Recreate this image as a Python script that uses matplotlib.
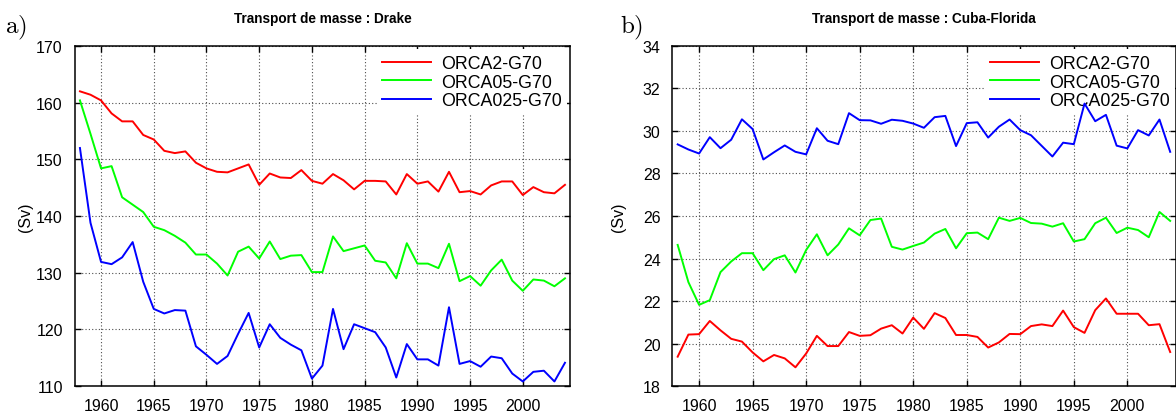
import numpy as np
import matplotlib
matplotlib.use("Agg")
import matplotlib.pyplot as plt

plt.rcParams["font.family"] = ["Liberation Sans", "DejaVu Sans"]
plt.rcParams["mathtext.fontset"] = "cm"

years = np.arange(1958, 2005)
labels = ["ORCA2-G70", "ORCA05-G70", "ORCA025-G70"]
colors = ["#ff0000", "#00ff00", "#0000ff"]

# Drake Passage transport (Sv)
drake_orca2 = [162.0, 161.4, 160.4, 158.1, 156.7, 156.7, 154.3, 153.5, 151.5, 151.1,
               151.4, 149.4, 148.4, 147.8, 147.7, 148.4, 149.1, 145.5, 147.5, 146.8,
               146.7, 148.1, 146.2, 145.7, 147.4, 146.3, 144.7, 146.2, 146.2, 146.1,
               143.8, 147.4, 145.7, 146.1, 144.3, 147.8, 144.2, 144.4, 143.8, 145.4,
               146.1, 146.1, 143.7, 145.1, 144.2, 144.0, 145.5]
drake_orca05 = [160.4, 154.5, 148.4, 148.8, 143.3, 142.0, 140.7, 138.1, 137.5, 136.5,
                135.3, 133.2, 133.2, 131.6, 129.5, 133.7, 134.6, 132.5, 135.5, 132.4,
                133.0, 133.1, 130.1, 130.1, 136.4, 133.8, 134.3, 134.8, 132.1, 131.8,
                129.0, 135.2, 131.6, 131.6, 130.8, 135.1, 128.5, 129.4, 127.7, 130.4,
                132.3, 128.6, 126.8, 128.8, 128.6, 127.6, 129.0]
drake_orca025 = [152.0, 138.8, 131.9, 131.5, 132.7, 135.4, 128.4, 123.6, 122.8, 123.4,
                 123.3, 117.0, 115.5, 113.9, 115.3, 119.2, 122.9, 116.8, 120.9, 118.5,
                 117.3, 116.3, 111.3, 113.6, 123.6, 116.5, 120.9, 120.2, 119.5, 116.8,
                 111.5, 117.4, 114.7, 114.7, 113.6, 123.9, 113.9, 114.4, 113.4, 115.2,
                 114.9, 112.2, 110.8, 112.5, 112.7, 110.8, 114.1]

# Cuba-Florida transport (Sv)
cuba_orca2 = [19.38, 20.42, 20.44, 21.06, 20.62, 20.22, 20.09, 19.58, 19.16, 19.46,
              19.30, 18.88, 19.53, 20.36, 19.88, 19.88, 20.54, 20.36, 20.39, 20.70,
              20.86, 20.47, 21.22, 20.69, 21.43, 21.20, 20.40, 20.40, 20.31, 19.81,
              20.05, 20.45, 20.44, 20.82, 20.90, 20.82, 21.55, 20.77, 20.50, 21.57,
              22.12, 21.40, 21.40, 21.40, 20.86, 20.91, 19.60]
cuba_orca05 = [24.64, 22.89, 21.82, 22.04, 23.36, 23.86, 24.25, 24.25, 23.45, 23.97,
               24.15, 23.34, 24.40, 25.14, 24.15, 24.66, 25.42, 25.09, 25.81, 25.88,
               24.55, 24.42, 24.59, 24.75, 25.17, 25.39, 24.48, 25.19, 25.22, 24.91,
               25.92, 25.77, 25.91, 25.67, 25.64, 25.50, 25.66, 24.80, 24.91, 25.66,
               25.92, 25.20, 25.45, 25.34, 25.00, 26.19, 25.77]
cuba_orca025 = [29.37, 29.13, 28.94, 29.71, 29.19, 29.59, 30.55, 30.09, 28.66, 29.00,
                29.32, 29.02, 28.90, 30.13, 29.54, 29.38, 30.84, 30.51, 30.50, 30.34,
                30.53, 30.48, 30.35, 30.15, 30.65, 30.71, 29.29, 30.37, 30.41, 29.69,
                30.20, 30.54, 30.04, 29.80, 29.30, 28.80, 29.45, 29.38, 31.29, 30.46,
                30.76, 29.31, 29.18, 30.04, 29.79, 30.54, 29.02]

fig = plt.figure(figsize=(11.76, 4.14), dpi=100)
ax1 = fig.add_axes([0.0635, 0.0652, 0.4214, 0.8213])
ax2 = fig.add_axes([0.5717, 0.0652, 0.4279, 0.8213])


def draw_panel(ax, series, ylim, yticks, title, leg_x):
    ax.set_axisbelow(True)
    for vals, lab, col in zip(series, labels, colors):
        ax.plot(years, vals, color=col, lw=1.4, label=lab, zorder=3)
    ax.set_xlim(1957.5, 2004.5)
    ax.set_ylim(*ylim)
    ax.set_xticks(np.arange(1960, 2001, 5))
    ax.set_yticks(yticks)
    ax.grid(True, color="0.3", linestyle=(0, (1, 2)), lw=0.8)
    ax.tick_params(direction="in", top=True, right=True, length=4.5, width=1,
                   labelsize=11.5, pad=8.5)
    for sp in ax.spines.values():
        sp.set_linewidth(1.1)
        sp.set_zorder(4)
    ax.set_title(title, fontsize=9.8, fontweight="bold", pad=17)
    ax.set_ylabel("(Sv)", fontsize=11.5)
    # key box sits over the grid but under the curves
    leg = ax.legend(loc="upper right", bbox_to_anchor=(leg_x, 0.99),
                    fontsize=12.8, frameon=True, fancybox=False, edgecolor="none",
                    facecolor="white", framealpha=1, borderpad=0.3,
                    borderaxespad=0, handlelength=2.75, handletextpad=0.55,
                    labelspacing=0.1)
    leg.get_frame().set_linewidth(0)
    leg.set_zorder(1)


draw_panel(ax1, [drake_orca2, drake_orca05, drake_orca025], (110, 170),
           np.arange(110, 171, 10), "Transport de masse : Drake", 0.993)
draw_panel(ax2, [cuba_orca2, cuba_orca05, cuba_orca025], (18, 34),
           np.arange(18, 35, 2), "Transport de masse : Cuba-Florida", 0.999)

ax1.yaxis.set_label_coords(-0.085, 0.5)
ax2.yaxis.set_label_coords(-0.092, 0.5)

fig.text(0.004, 0.92, r"$\mathrm{a)}$", fontsize=18, ha="left", va="baseline")
fig.text(0.527, 0.92, r"$\mathrm{b)}$", fontsize=18, ha="left", va="baseline")

fig.savefig("out.png", dpi=100)
